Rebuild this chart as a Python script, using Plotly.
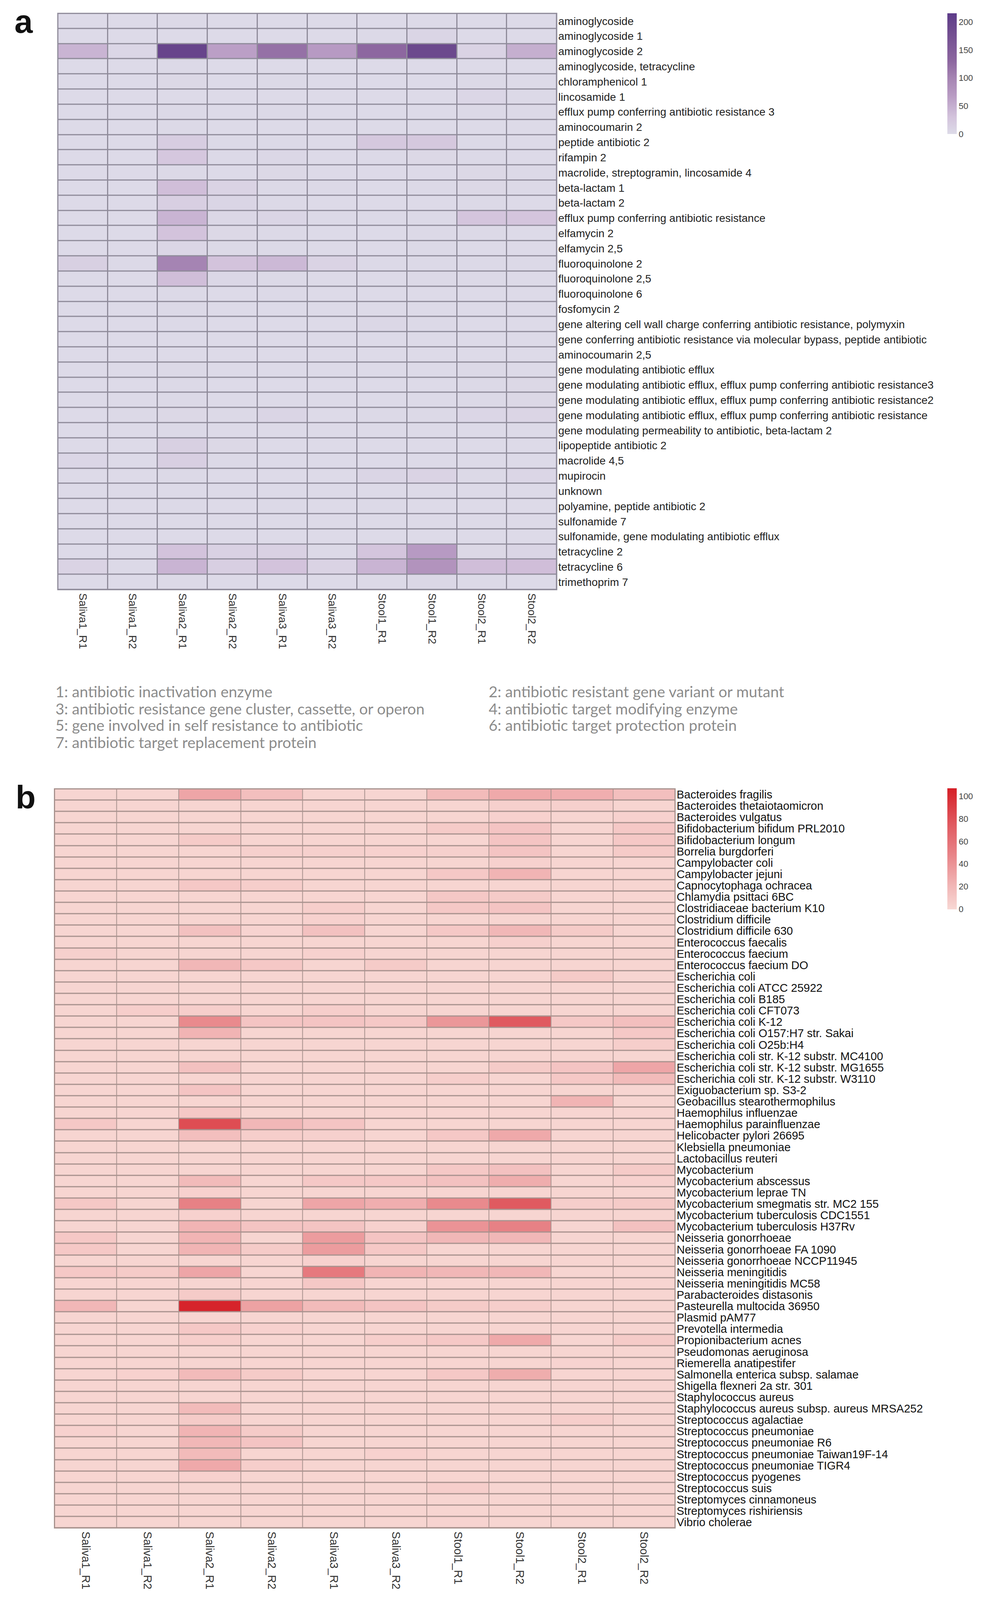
import numpy as np
import plotly.graph_objects as go

# reference geometry (pixels of the 2570 x 4735 original); the page viewport is 4096 px tall,
# so everything is laid out in paper fractions of the reference and the figure fills the viewport
W, H = 2570, 4735
VIEW_H = 4096

samples = ["Saliva1_R1", "Saliva1_R2", "Saliva2_R1", "Saliva2_R2", "Saliva3_R1",
           "Saliva3_R2", "Stool1_R1", "Stool1_R2", "Stool2_R1", "Stool2_R2"]

amr_classes = [
    "aminoglycoside", "aminoglycoside 1", "aminoglycoside 2", "aminoglycoside, tetracycline",
    "chloramphenicol 1", "lincosamide 1", "efflux pump conferring antibiotic resistance 3",
    "aminocoumarin 2", "peptide antibiotic 2", "rifampin 2",
    "macrolide, streptogramin, lincosamide 4", "beta-lactam 1", "beta-lactam 2",
    "efflux pump conferring antibiotic resistance", "elfamycin 2", "elfamycin 2,5",
    "fluoroquinolone 2", "fluoroquinolone 2,5", "fluoroquinolone 6", "fosfomycin 2",
    "gene altering cell wall charge conferring antibiotic resistance, polymyxin",
    "gene conferring antibiotic resistance via molecular bypass, peptide antibiotic",
    "aminocoumarin 2,5", "gene modulating antibiotic efflux",
    "gene modulating antibiotic efflux, efflux pump conferring antibiotic resistance3",
    "gene modulating antibiotic efflux, efflux pump conferring antibiotic resistance2",
    "gene modulating antibiotic efflux, efflux pump conferring antibiotic resistance",
    "gene modulating permeability to antibiotic, beta-lactam 2", "lipopeptide antibiotic 2",
    "macrolide 4,5", "mupirocin", "unknown", "polyamine, peptide antibiotic 2",
    "sulfonamide 7", "sulfonamide, gene modulating antibiotic efflux",
    "tetracycline 2", "tetracycline 6", "trimethoprim 7",
]

# panel a: ARG counts per sample (one list per sample, rows follow amr_classes)
amr_saliva1_r1 = [1, 1, 45, 1, 1, 1, 1, 1, 1, 1, 1, 1, 1, 1, 1, 1, 14, 1, 1, 1,
                  1, 1, 1, 1, 1, 1, 1, 1, 1, 6, 1, 1, 1, 1, 1, 1, 10, 1]
amr_saliva1_r2 = [1, 1, 6, 1, 1, 1, 1, 1, 1, 1, 1, 1, 1, 1, 1, 1, 2, 1, 1, 1,
                  1, 1, 1, 1, 1, 1, 2, 1, 1, 1, 1, 1, 1, 1, 1, 1, 2, 1]
amr_saliva2_r1 = [2, 1, 200, 2, 4, 1, 2, 2, 18, 25, 3, 35, 15, 45, 30, 6, 100, 35, 3, 2,
                  2, 1, 1, 2, 2, 2, 4, 2, 14, 15, 2, 1, 2, 1, 1, 30, 45, 2]
amr_saliva2_r2 = [1, 1, 65, 1, 1, 1, 1, 1, 2, 2, 1, 10, 8, 5, 4, 2, 30, 5, 1, 1,
                  1, 1, 1, 1, 1, 1, 2, 1, 4, 2, 1, 1, 1, 1, 1, 12, 15, 1]
amr_saliva3_r1 = [1, 1, 120, 1, 2, 1, 2, 1, 3, 5, 4, 3, 2, 8, 3, 2, 40, 3, 2, 1,
                  1, 1, 1, 1, 1, 1, 8, 1, 1, 1, 1, 1, 3, 1, 1, 12, 30, 1]
amr_saliva3_r2 = [1, 1, 70, 1, 1, 1, 1, 1, 1, 1, 1, 2, 1, 3, 1, 1, 10, 1, 1, 1,
                  1, 1, 1, 1, 1, 1, 1, 1, 1, 1, 1, 1, 1, 1, 1, 3, 10, 1]
amr_stool1_r1 = [1, 3, 130, 1, 1, 1, 1, 1, 24, 2, 1, 1, 1, 2, 1, 1, 2, 1, 1, 1,
                 5, 1, 1, 1, 1, 1, 2, 1, 1, 1, 8, 1, 3, 1, 1, 28, 45, 2]
amr_stool1_r2 = [1, 8, 190, 1, 1, 1, 1, 1, 24, 4, 1, 2, 1, 3, 2, 2, 3, 2, 1, 1,
                 2, 1, 1, 1, 1, 1, 2, 1, 1, 1, 10, 1, 1, 1, 1, 70, 80, 5]
amr_stool2_r1 = [1, 1, 10, 1, 2, 6, 2, 1, 2, 2, 4, 4, 2, 28, 2, 1, 3, 2, 1, 1,
                 1, 1, 1, 2, 2, 2, 6, 1, 1, 1, 2, 1, 1, 1, 1, 4, 35, 2]
amr_stool2_r2 = [1, 1, 50, 1, 1, 2, 2, 1, 1, 1, 3, 3, 1, 28, 1, 1, 2, 1, 1, 1,
                 1, 1, 1, 1, 4, 4, 7, 1, 1, 1, 6, 1, 1, 1, 1, 8, 35, 1]

taxa = [
    "Bacteroides fragilis", "Bacteroides thetaiotaomicron", "Bacteroides vulgatus",
    "Bifidobacterium bifidum PRL2010", "Bifidobacterium longum", "Borrelia burgdorferi",
    "Campylobacter coli", "Campylobacter jejuni", "Capnocytophaga ochracea",
    "Chlamydia psittaci 6BC", "Clostridiaceae bacterium K10", "Clostridium difficile",
    "Clostridium difficile 630", "Enterococcus faecalis", "Enterococcus faecium",
    "Enterococcus faecium DO", "Escherichia coli", "Escherichia coli ATCC 25922",
    "Escherichia coli B185", "Escherichia coli CFT073", "Escherichia coli K-12",
    "Escherichia coli O157:H7 str. Sakai", "Escherichia coli O25b:H4",
    "Escherichia coli str. K-12 substr. MC4100", "Escherichia coli str. K-12 substr. MG1655",
    "Escherichia coli str. K-12 substr. W3110", "Exiguobacterium sp. S3-2",
    "Geobacillus stearothermophilus", "Haemophilus influenzae", "Haemophilus parainfluenzae",
    "Helicobacter pylori 26695", "Klebsiella pneumoniae", "Lactobacillus reuteri",
    "Mycobacterium", "Mycobacterium abscessus", "Mycobacterium leprae TN",
    "Mycobacterium smegmatis str. MC2 155", "Mycobacterium tuberculosis CDC1551",
    "Mycobacterium tuberculosis H37Rv", "Neisseria gonorrhoeae", "Neisseria gonorrhoeae FA 1090",
    "Neisseria gonorrhoeae NCCP11945", "Neisseria meningitidis", "Neisseria meningitidis MC58",
    "Parabacteroides distasonis", "Pasteurella multocida 36950", "Plasmid pAM77",
    "Prevotella intermedia", "Propionibacterium acnes", "Pseudomonas aeruginosa",
    "Riemerella anatipestifer", "Salmonella enterica subsp. salamae",
    "Shigella flexneri 2a str. 301", "Staphylococcus aureus",
    "Staphylococcus aureus subsp. aureus MRSA252", "Streptococcus agalactiae",
    "Streptococcus pneumoniae", "Streptococcus pneumoniae R6",
    "Streptococcus pneumoniae Taiwan19F-14", "Streptococcus pneumoniae TIGR4",
    "Streptococcus pyogenes", "Streptococcus suis", "Streptomyces cinnamoneus",
    "Streptomyces rishiriensis", "Vibrio cholerae",
]

# panel b: counts per sample (one list per sample, rows follow taxa)
tax_saliva1_r1 = [2, 2, 2, 2, 2, 2, 2, 2, 2, 2, 2, 2, 2, 2, 5, 2, 2, 2, 2, 2,
                  2, 2, 2, 2, 2, 2, 2, 2, 2, 10, 2, 2, 2, 2, 2, 2, 10, 2, 2, 10,
                  10, 2, 10, 2, 2, 20, 2, 2, 2, 2, 2, 2, 2, 2, 2, 2, 4, 2, 2, 2,
                  2, 2, 2, 2, 2]
tax_saliva1_r2 = [2, 2, 2, 2, 2, 2, 2, 2, 2, 2, 2, 2, 2, 2, 2, 2, 2, 2, 2, 6,
                  2, 2, 2, 2, 2, 2, 2, 2, 2, 2, 2, 2, 2, 2, 2, 2, 2, 2, 2, 2,
                  2, 2, 8, 2, 2, 2, 2, 2, 2, 2, 2, 4, 2, 2, 2, 2, 2, 2, 2, 2,
                  2, 2, 2, 2, 2]
tax_saliva2_r1 = [30, 2, 2, 2, 8, 2, 2, 2, 10, 2, 2, 2, 14, 2, 2, 20, 2, 2, 2, 6,
                  45, 22, 2, 2, 14, 2, 12, 2, 10, 82, 15, 2, 2, 2, 18, 4, 50, 4, 22, 22,
                  22, 2, 30, 2, 8, 105, 2, 10, 6, 2, 2, 18, 2, 2, 18, 8, 22, 20, 18, 28,
                  4, 2, 2, 2, 2]
tax_saliva2_r2 = [15, 2, 2, 2, 2, 5, 2, 2, 6, 2, 2, 2, 3, 2, 2, 10, 2, 2, 2, 2,
                  12, 2, 2, 2, 2, 2, 2, 2, 2, 20, 6, 2, 2, 2, 2, 2, 2, 2, 12, 2,
                  8, 2, 2, 2, 2, 32, 2, 4, 2, 2, 2, 8, 2, 2, 2, 2, 8, 12, 2, 6,
                  2, 2, 2, 2, 2]
tax_saliva3_r1 = [2, 2, 2, 2, 2, 5, 2, 2, 2, 2, 6, 4, 14, 2, 4, 2, 2, 2, 2, 6,
                  12, 2, 2, 2, 2, 2, 2, 2, 2, 12, 5, 2, 2, 2, 10, 2, 30, 2, 12, 35,
                  35, 4, 55, 10, 2, 18, 2, 2, 2, 2, 2, 2, 2, 2, 2, 2, 2, 2, 2, 2,
                  2, 2, 2, 2, 2]
tax_saliva3_r2 = [2, 2, 2, 2, 2, 4, 2, 2, 2, 2, 2, 2, 2, 2, 2, 8, 2, 2, 2, 2,
                  10, 2, 2, 2, 2, 2, 2, 2, 2, 2, 2, 2, 2, 2, 10, 2, 25, 2, 4, 12,
                  10, 2, 22, 2, 2, 12, 2, 2, 6, 2, 2, 2, 2, 2, 2, 2, 2, 2, 4, 2,
                  2, 2, 2, 2, 2]
tax_stool1_r1 = [18, 2, 2, 8, 2, 5, 2, 10, 2, 10, 10, 2, 10, 2, 2, 2, 2, 2, 2, 2,
                 38, 2, 2, 2, 2, 6, 2, 2, 2, 2, 10, 2, 2, 10, 14, 2, 45, 2, 40, 20,
                 2, 2, 20, 2, 2, 8, 2, 2, 10, 2, 2, 10, 2, 2, 2, 2, 2, 2, 2, 2,
                 2, 6, 2, 2, 3]
tax_stool1_r2 = [28, 5, 4, 12, 12, 12, 4, 22, 2, 8, 12, 2, 20, 5, 2, 2, 2, 2, 2, 2,
                 75, 2, 2, 2, 8, 2, 2, 2, 2, 2, 28, 2, 2, 14, 26, 2, 75, 2, 50, 20,
                 2, 2, 20, 2, 2, 6, 2, 2, 28, 2, 2, 26, 2, 2, 2, 2, 2, 2, 2, 2,
                 2, 2, 2, 2, 2]
tax_stool2_r1 = [25, 5, 2, 2, 2, 2, 2, 2, 2, 2, 2, 2, 8, 2, 2, 2, 8, 2, 2, 2,
                 10, 2, 2, 2, 12, 10, 2, 22, 2, 2, 2, 2, 2, 2, 2, 2, 6, 2, 2, 2,
                 2, 2, 2, 2, 2, 2, 2, 2, 2, 2, 3, 2, 2, 2, 2, 6, 2, 2, 2, 2,
                 2, 2, 2, 2, 2]
tax_stool2_r2 = [15, 2, 4, 10, 10, 8, 2, 2, 2, 2, 2, 2, 2, 2, 2, 2, 2, 2, 2, 2,
                 15, 10, 6, 2, 30, 18, 2, 2, 2, 2, 2, 2, 2, 8, 4, 2, 8, 2, 14, 2,
                 2, 2, 2, 2, 2, 2, 2, 2, 8, 2, 2, 2, 2, 2, 2, 2, 2, 2, 2, 2,
                 2, 2, 2, 2, 2]

amr_cbar_ticks = [0, 50, 100, 150, 200]
tax_cbar_ticks = [0, 20, 40, 60, 80, 100]
amr_zmax = 216
tax_zmax = 107

legend_lines = [
    "1: antibiotic inactivation enzyme", "2: antibiotic resistant gene variant or mutant",
    "3: antibiotic resistance gene cluster, cassette, or operon", "4: antibiotic target modifying enzyme",
    "5: gene involved in self resistance to antibiotic", "6: antibiotic target protection protein",
    "7: antibiotic target replacement protein",
]

amr_cols = [amr_saliva1_r1, amr_saliva1_r2, amr_saliva2_r1, amr_saliva2_r2, amr_saliva3_r1,
            amr_saliva3_r2, amr_stool1_r1, amr_stool1_r2, amr_stool2_r1, amr_stool2_r2]
tax_cols = [tax_saliva1_r1, tax_saliva1_r2, tax_saliva2_r1, tax_saliva2_r2, tax_saliva3_r1,
            tax_saliva3_r2, tax_stool1_r1, tax_stool1_r2, tax_stool2_r1, tax_stool2_r2]
for c in amr_cols:
    assert len(c) == len(amr_classes)
for c in tax_cols:
    assert len(c) == len(taxa)
z_a = np.column_stack(amr_cols)
z_b = np.column_stack(tax_cols)

purple_scale = [[0.0, "#dddbe8"], [0.14, "#d3c3dc"], [0.32, "#b89bc3"], [0.46, "#a685b3"],
                [0.6, "#8d67a0"], [0.9, "#6a478c"], [1.0, "#5d3c8a"]]
red_scale = [[0.0, "#f8d8d4"], [0.2, "#f1b5b5"], [0.45, "#e88488"], [0.7, "#e05a60"],
             [1.0, "#d51f27"]]

FONT = "Arial, Liberation Sans, sans-serif"


def fy(px):
    """reference pixel row -> paper fraction"""
    return 1 - px / H


# pixel geometry of the two panels in the reference
a_l, a_r, a_t, a_b = 148, 1425, 38.5, 1745
b_l, b_r, b_t, b_b = 139.5, 1728, 2335, 4524

fig = go.Figure()
fig.add_trace(go.Heatmap(
    z=z_a, x=samples, y=amr_classes, xaxis="x", yaxis="y",
    colorscale=purple_scale, zmin=0, zmax=amr_zmax, xgap=3, ygap=3,
    colorbar=dict(x=2425 / W, xanchor="left", y=fy(38), yanchor="top",
                  len=357 / H, lenmode="fraction", thickness=24, thicknessmode="pixels",
                  outlinewidth=0, ypad=0, xpad=0, tickvals=amr_cbar_ticks, ticks="",
                  tickfont=dict(family=FONT, size=22, color="#444444")),
))
fig.add_trace(go.Heatmap(
    z=z_b, x=samples, y=taxa, xaxis="x2", yaxis="y2",
    colorscale=red_scale, zmin=0, zmax=tax_zmax, xgap=2, ygap=3,
    colorbar=dict(x=2425 / W, xanchor="left", y=fy(2333), yanchor="top",
                  len=359 / H, lenmode="fraction", thickness=24, thicknessmode="pixels",
                  outlinewidth=0, ypad=0, xpad=0, tickvals=tax_cbar_ticks, ticks="",
                  tickfont=dict(family=FONT, size=22, color="#444444")),
))

common_x = dict(tickangle=90, ticks="", showgrid=False, zeroline=False, showline=False,
                ticklabelstandoff=8, tickmode="array", tickvals=samples)
common_y = dict(side="right", autorange="reversed", ticks="", showgrid=False,
                zeroline=False, showline=False, ticklabelstandoff=3, tickmode="array")

fig.update_layout(
    width=W, height=VIEW_H, margin=dict(l=0, r=0, t=0, b=0),
    paper_bgcolor="white", plot_bgcolor="white",
    xaxis=dict(domain=[a_l / W, a_r / W], anchor="y",
               tickfont=dict(family=FONT, size=28, color="#333333"), **common_x),
    yaxis=dict(domain=[fy(a_b), fy(a_t)], anchor="x", tickvals=amr_classes,
               tickfont=dict(family=FONT, size=28, color="#222222"), **common_y),
    xaxis2=dict(domain=[b_l / W, b_r / W], anchor="y2",
                tickfont=dict(family=FONT, size=29, color="#333333"), **common_x),
    yaxis2=dict(domain=[fy(b_b), fy(b_t)], anchor="x2", tickvals=taxa,
                tickfont=dict(family=FONT, size=29, color="#111111"), **common_y),
    showlegend=False,
)

# cell-separator backgrounds and outer frames
for xr, yr, gap_col in [("x", "y", "#8f8b9a"), ("x2", "y2", "#a8928e")]:
    fig.add_shape(type="rect", xref=f"{xr} domain", yref=f"{yr} domain",
                  x0=0, x1=1, y0=0, y1=1, fillcolor=gap_col, line=dict(width=0),
                  layer="below")
    fig.add_shape(type="rect", xref=f"{xr} domain", yref=f"{yr} domain",
                  x0=0, x1=1, y0=0, y1=1, fillcolor="rgba(0,0,0,0)",
                  line=dict(color=gap_col, width=3), layer="above")

# panel letters
fig.add_annotation(text="<b>a</b>", x=35 / W, y=fy(62), xref="paper", yref="paper",
                   xanchor="left", yanchor="middle", showarrow=False,
                   font=dict(family=FONT, size=84, color="#111111"))
fig.add_annotation(text="<b>b</b>", x=38 / W, y=fy(2360), xref="paper", yref="paper",
                   xanchor="left", yanchor="middle", showarrow=False,
                   font=dict(family=FONT, size=84, color="#111111"))

# mechanism legend
leg_x = [140, 1249]
leg_y = [2046, 2097, 2146, 2197]
for i, line in enumerate(legend_lines):
    fig.add_annotation(text=line, x=leg_x[i % 2] / W, y=fy(leg_y[i // 2]),
                       xref="paper", yref="paper", xanchor="left", yanchor="middle",
                       showarrow=False, font=dict(family="Lato", size=39, color="#8c8c8c"))

fit_view = """
document.body.style.margin='0';
var gd=document.getElementById('{plot_id}');
Plotly.relayout(gd,{width:window.innerWidth,height:window.innerHeight});
"""
fig.write_html("out.html", config={"displayModeBar": False}, post_script=fit_view)
